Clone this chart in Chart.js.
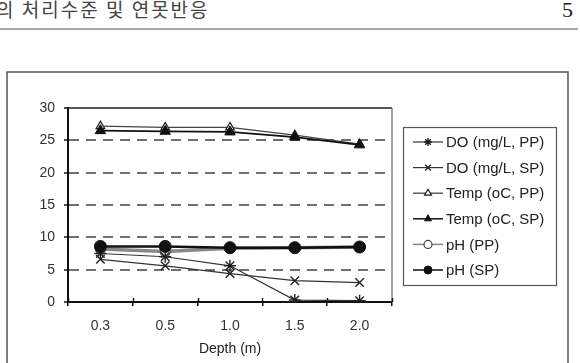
<!DOCTYPE html>
<html>
<head>
<meta charset="utf-8">
<script src="https://cdn.jsdelivr.net/npm/chart.js@4.4.0/dist/chart.umd.min.js"></script>
<style>
  body { margin: 0; background: #fff; width: 580px; height: 363px; overflow: hidden; position: relative; }
  #chart { position: absolute; left: 0; top: 0; }
  #head { position: absolute; left: -4px; top: -5px; font: 19px 'Noto Sans CJK KR'; letter-spacing: 2px; color: #444; white-space: nowrap; }
  #page { position: absolute; left: 562px; top: -3px; font: 22px 'Liberation Serif'; color: #222; }
  #rule { position: absolute; left: 0; top: 28px; width: 578px; height: 2px; background: #aaa; }
</style>
</head>
<body>
<div id="head">의 처리수준 및 연못반응</div>
<div id="page">5</div>
<div id="rule"></div>
<canvas id="chart" width="580" height="363"></canvas>
<script>
const depths = ['0.3', '0.5', '1.0', '1.5', '2.0'];
const doPP = [7.5, 7.0, 5.6, 0.3, 0.2];
const doSP = [6.6, 5.6, 4.4, 3.3, 3.0];
const tempPP = [27.2, 27.0, 27.0, 25.8, 24.4];
const tempSP = [26.5, 26.4, 26.3, 25.5, 24.3];
const phPP = [8.2, 7.8, 8.3, 8.4, 8.5];
const phSP = [8.6, 8.6, 8.4, 8.4, 8.5];
const yTicks = [0, 5, 10, 15, 20, 25, 30];

const FONT = 'Liberation Sans, Arial, sans-serif';

// outer frame, top/right plot border, upper half of x ticks, legend box
const decor = {
    id: 'decor',
    beforeDraw(chart) {
        const c = chart.ctx;
        c.save();
        c.strokeStyle = '#555';
        c.lineWidth = 1.5;
        c.strokeRect(7, 72, 561, 330);
        c.restore();
    },
    beforeDatasetsDraw(chart) {
        const c = chart.ctx, a = chart.chartArea;
        c.save();
        c.strokeStyle = '#222';
        c.lineWidth = 1.5;
        c.beginPath(); c.moveTo(a.left, a.top); c.lineTo(a.right, a.top); c.stroke();
        c.strokeStyle = '#666';
        c.lineWidth = 1.2;
        c.beginPath(); c.moveTo(a.right, a.top); c.lineTo(a.right, a.bottom); c.stroke();
        c.strokeStyle = '#111';
        c.lineWidth = 1.5;
        const step = (a.right - a.left) / depths.length;
        for (let i = 0; i <= depths.length; i++) {
            const x = Math.round(a.left + i * step) + 0.5;
            c.beginPath(); c.moveTo(x, a.bottom - 4); c.lineTo(x, a.bottom); c.stroke();
        }
        c.restore();
    },
    afterDraw(chart) {
        const c = chart.ctx;
        c.save();
        c.fillStyle = '#fff';
        c.fillRect(403, 127, 153, 158);
        c.strokeStyle = '#555';
        c.lineWidth = 1.2;
        c.strokeRect(403.5, 127.5, 153, 158);
        chart.data.datasets.forEach((ds, i) => {
            const y = 142 + i * 25.6;
            c.strokeStyle = ds.borderColor;
            c.lineWidth = Math.min(ds.borderWidth, 1.5);
            c.beginPath(); c.moveTo(413, y); c.lineTo(443, y); c.stroke();
            c.fillStyle = ds.pointBackgroundColor;
            c.strokeStyle = ds.pointBorderColor;
            c.lineWidth = ds.pointBorderWidth;
            Chart.helpers.drawPoint(c, {pointStyle: ds.pointStyle, radius: 4, borderWidth: ds.pointBorderWidth, rotation: 0}, 428, y);
            c.fillStyle = '#222';
            c.font = '15px ' + FONT;
            c.textAlign = 'left';
            c.textBaseline = 'middle';
            c.fillText(ds.label, 446, y + 1);
        });
        c.restore();
    }
};

new Chart(document.getElementById('chart'), {
    type: 'line',
    data: {
        labels: depths,
        datasets: [
            { label: 'DO (mg/L, PP)', data: doPP, borderColor: '#333', borderWidth: 1.2, order: 2,
              pointStyle: 'star', pointRadius: 6, pointBackgroundColor: '#222', pointBorderColor: '#222', pointBorderWidth: 1.4 },
            { label: 'DO (mg/L, SP)', data: doSP, borderColor: '#333', borderWidth: 1.2, order: 2,
              pointStyle: 'crossRot', pointRadius: 6, pointBackgroundColor: '#222', pointBorderColor: '#222', pointBorderWidth: 1.4 },
            { label: 'Temp (oC, PP)', data: tempPP, borderColor: '#444', borderWidth: 1.3, order: 2,
              pointStyle: 'triangle', pointRadius: 5, pointBackgroundColor: '#fff', pointBorderColor: '#222', pointBorderWidth: 1.2 },
            { label: 'Temp (oC, SP)', data: tempSP, borderColor: '#111', borderWidth: 1.8, order: 1,
              pointStyle: 'triangle', pointRadius: 6, pointBackgroundColor: '#111', pointBorderColor: '#111', pointBorderWidth: 1 },
            { label: 'pH (PP)', data: phPP, borderColor: '#888', borderWidth: 3.5, order: 2,
              pointStyle: 'circle', pointRadius: 5, pointBackgroundColor: '#fff', pointBorderColor: '#444', pointBorderWidth: 1.2 },
            { label: 'pH (SP)', data: phSP, borderColor: '#111', borderWidth: 2.5, order: 0,
              pointStyle: 'circle', pointRadius: 6, pointBackgroundColor: '#111', pointBorderColor: '#111', pointBorderWidth: 1 }
        ]
    },
    options: {
        responsive: false,
        animation: false,
        layout: { padding: { top: 108, right: 188, bottom: 0, left: 0 } },
        plugins: { legend: { display: false }, tooltip: { enabled: false } },
        scales: {
            x: {
                offset: true,
                grid: { offset: true, drawOnChartArea: false, drawTicks: true, tickLength: 4, color: '#111', lineWidth: 1.5 },
                border: { display: true, color: '#111', width: 2 },
                ticks: { color: '#333', font: { family: FONT, size: 14 }, padding: 12, maxRotation: 0 },
                title: { display: true, text: 'Depth (m)', color: '#222', font: { family: FONT, size: 14 }, padding: { top: 0, bottom: 5 } },
                afterFit: s => { s.height = 61; }
            },
            y: {
                min: 0,
                max: 30,
                afterBuildTicks: s => { s.ticks = yTicks.map(v => ({ value: v })); },
                grid: {
                    color: ctx => (ctx.tick && (ctx.tick.value === 0 || ctx.tick.value === 30)) ? 'rgba(0,0,0,0)' : '#6f6f6f',
                    lineWidth: 2,
                    drawTicks: true,
                    tickLength: 4,
                    tickColor: '#111',
                    tickWidth: 1.5
                },
                border: { display: true, color: '#111', width: 2, dash: [10, 7] },
                ticks: { color: '#333', font: { family: FONT, size: 14 }, padding: 9 },
                afterFit: s => { s.width = 68; }
            }
        }
    },
    plugins: [decor]
});
</script>
</body>
</html>
